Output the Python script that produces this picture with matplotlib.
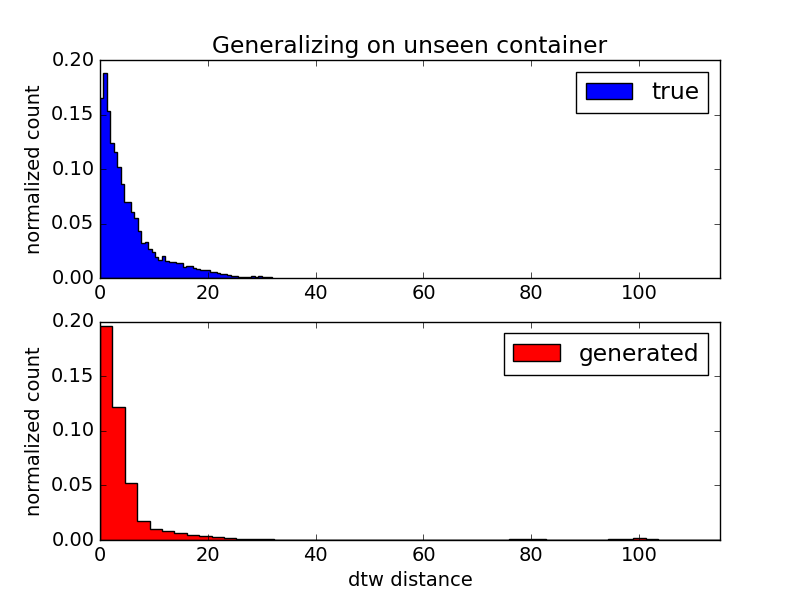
import numpy as np
import matplotlib
matplotlib.use("Agg")
import matplotlib.pyplot as plt

plt.style.use("classic")
plt.rcParams["font.size"] = 14

title = "Generalizing on unseen container"
xlabel = "dtw distance"
ylabel = "normalized count"

# True distribution: 50 bins from 0 to true_max (density)
true_max = 31.9
true_heights = [
    0.165, 0.188, 0.153, 0.124, 0.116, 0.102, 0.086, 0.070, 0.070, 0.061,
    0.055, 0.043, 0.032, 0.033, 0.027, 0.024, 0.019, 0.017, 0.020, 0.016,
    0.015, 0.015, 0.014, 0.014, 0.010, 0.011, 0.011, 0.009, 0.0086, 0.0076,
    0.0073, 0.0073, 0.0058, 0.0055, 0.0049, 0.0037, 0.0037, 0.0028, 0.0021, 0.0021,
    0.0015, 0.0015, 0.0015, 0.0015, 0.0021, 0.0015, 0.0020, 0.0012, 0.0012, 0.0012,
]

# Generated distribution: 50 bins from 0 to gen_max (density)
gen_max = 115.0
gen_heights = [
    0.196, 0.1217, 0.052, 0.0174, 0.0104, 0.0083, 0.0067, 0.0049, 0.0039, 0.0025,
    0.0015, 0.0010, 0.0006, 0.0005, 0.0003, 0.0003, 0.0002, 0.0002, 0.0, 0.0,
    0.0, 0.0, 0.0, 0.0, 0.0, 0.0, 0.0, 0.0, 0.0, 0.0,
    0.0003, 0.0004, 0.0004, 0.0005, 0.0006, 0.0006, 0.0004, 0.0, 0.0, 0.0,
    0.0, 0.0005, 0.0010, 0.0016, 0.0012, 0.0004, 0.0, 0.0, 0.0, 0.0,
]

xlim = (0, 115)

fig = plt.figure(figsize=(8, 6), dpi=100)

ax1 = fig.add_subplot(211)
edges1 = np.linspace(0, true_max, len(true_heights) + 1)
ax1.hist(edges1[:-1], bins=edges1, weights=true_heights, histtype="stepfilled",
         color="blue", edgecolor="black", label="true")
ax1.set_xlim(*xlim)
ax1.set_ylim(0, 0.20)
ax1.set_ylabel(ylabel)
ax1.set_title(title)
ax1.legend(loc="upper right")

ax2 = fig.add_subplot(212)
edges2 = np.linspace(0, gen_max, len(gen_heights) + 1)
ax2.hist(edges2[:-1], bins=edges2, weights=gen_heights, histtype="stepfilled",
         color="red", edgecolor="black", label="generated")
ax2.set_xlim(*xlim)
ax2.set_ylim(0, 0.20)
ax2.set_ylabel(ylabel)
ax2.set_xlabel(xlabel)
ax2.legend(loc="upper right")

fig.savefig("out.png", dpi=100)
